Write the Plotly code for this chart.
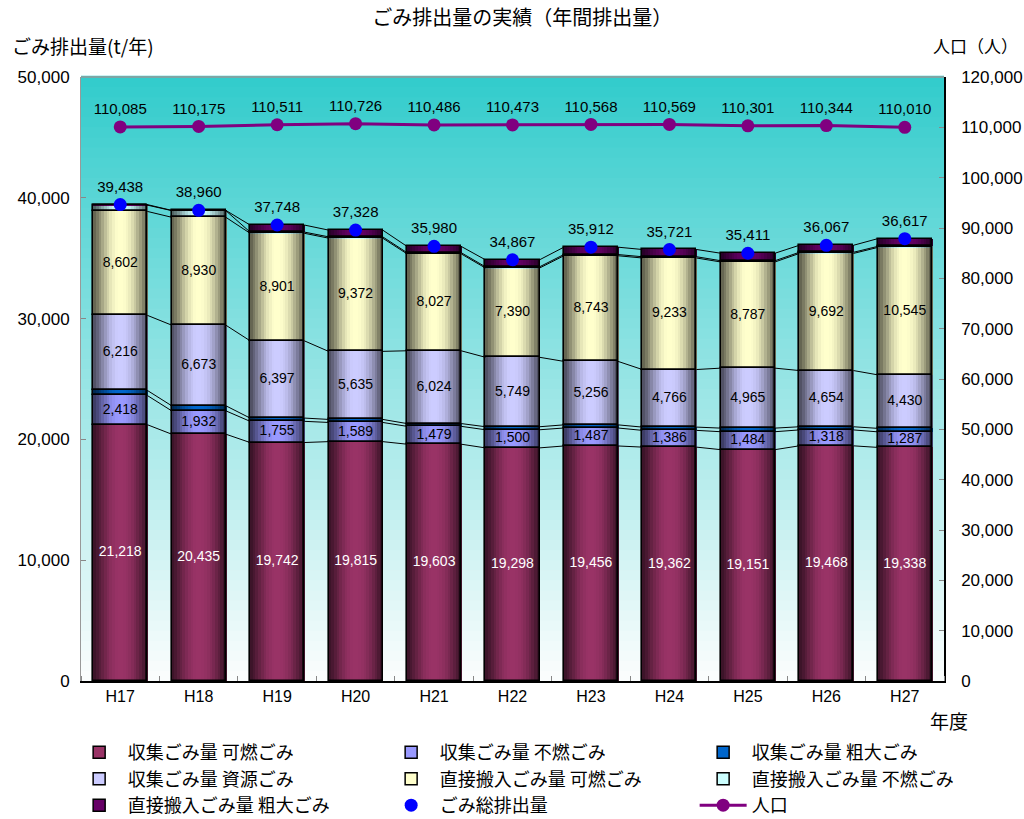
import plotly.graph_objects as go

# ---- data -------------------------------------------------------------
years = ["H17", "H18", "H19", "H20", "H21", "H22", "H23", "H24", "H25", "H26", "H27"]

collected_burnable = [21218, 20435, 19742, 19815, 19603, 19298, 19456, 19362, 19151, 19468, 19338]
collected_nonburnable = [2418, 1932, 1755, 1589, 1479, 1500, 1487, 1386, 1484, 1318, 1287]
collected_bulky = [420, 420, 270, 250, 230, 250, 260, 270, 300, 260, 290]
collected_resource = [6216, 6673, 6397, 5635, 6024, 5749, 5256, 4766, 4965, 4654, 4430]
direct_burnable = [8602, 8930, 8901, 9372, 8027, 7390, 8743, 9233, 8787, 9692, 10545]
direct_nonburnable = [520, 550, 100, 107, 97, 100, 100, 104, 104, 95, 87]
direct_bulky = [44, 20, 583, 560, 520, 580, 610, 600, 620, 580, 640]

total_waste = [39438, 38960, 37748, 37328, 35980, 34867, 35912, 35721, 35411, 36067, 36617]
population = [110085, 110175, 110511, 110726, 110486, 110473, 110568, 110569, 110301, 110344, 110010]

series = [
    ("収集ごみ量 可燃ごみ", collected_burnable, (153, 51, 102), True, "white"),
    ("収集ごみ量 不燃ごみ", collected_nonburnable, (153, 153, 255), True, "black"),
    ("収集ごみ量 粗大ごみ", collected_bulky, (0, 102, 204), False, "black"),
    ("収集ごみ量 資源ごみ", collected_resource, (204, 204, 255), True, "black"),
    ("直接搬入ごみ量 可燃ごみ", direct_burnable, (255, 255, 204), True, "black"),
    ("直接搬入ごみ量 不燃ごみ", direct_nonburnable, (204, 255, 255), False, "black"),
    ("直接搬入ごみ量 粗大ごみ", direct_bulky, (102, 0, 102), False, "black"),
]

# ---- styling helpers -------------------------------------------------
JP = "Noto Sans CJK JP"
NUM = "Liberation Sans, Noto Sans CJK JP"
BAR_W = 0.69
# brightness profile across a bar (cylinder-like shading)
SHADE = [0.40, 0.48, 0.57, 0.66, 0.75, 0.83, 0.90, 0.95, 0.99, 1.0,
         1.0, 0.99, 0.96, 0.92, 0.86, 0.79, 0.70, 0.61, 0.51, 0.40]


def rgb(c, f=1.0):
    return "rgb(%d,%d,%d)" % tuple(max(0, min(255, round(v * f))) for v in c)


xs = list(range(len(years)))
fig = go.Figure()

# cumulative bases of the stacked segments
bases, tops = [], []
running = [0] * len(years)
for _, vals, _, _, _ in series:
    bases.append(list(running))
    running = [r + v for r, v in zip(running, vals)]
    tops.append(list(running))

# connector lines between neighbouring bars at each segment boundary
cx, cy = [], []
for top in tops:
    for i in range(len(years) - 1):
        cx += [xs[i] + BAR_W / 2, xs[i + 1] - BAR_W / 2, None]
        cy += [top[i], top[i + 1], None]
fig.add_trace(go.Scatter(x=cx, y=cy, mode="lines", line=dict(color="black", width=1),
                         hoverinfo="skip", showlegend=False))

# shaded strips for each segment
n = len(SHADE)
sw = BAR_W / n
for (name, vals, col, _, _), base in zip(series, bases):
    for k, f in enumerate(SHADE):
        fig.add_trace(go.Bar(
            x=xs, y=vals, base=base, width=sw * 1.3,
            offset=-BAR_W / 2 + k * sw,
            marker=dict(color=rgb(col, f), line=dict(width=0)),
            showlegend=False, hoverinfo="skip"))

# black outline of every segment
for (name, vals, col, _, _), base in zip(series, bases):
    fig.add_trace(go.Bar(
        x=xs, y=vals, base=base, width=BAR_W,
        marker=dict(color="rgba(0,0,0,0)", line=dict(color="black", width=1.6)),
        showlegend=False, hoverinfo="skip"))

# legend entries for the segments
for name, vals, col, _, _ in series:
    fig.add_trace(go.Bar(x=[None], y=[None], name=name,
                         marker=dict(color=rgb(col), line=dict(color="black", width=1.5))))

# value labels inside the labelled segments
for (name, vals, col, labelled, tcol), base in zip(series, bases):
    if not labelled:
        continue
    fig.add_trace(go.Scatter(
        x=xs, y=[b + v / 2 for b, v in zip(base, vals)], mode="text",
        text=[f"{v:,}" for v in vals],
        textfont=dict(family=NUM, size=14, color=tcol),
        showlegend=False, hoverinfo="skip"))

# total waste markers
fig.add_trace(go.Scatter(
    x=xs, y=total_waste, name="ごみ総排出量", mode="markers+text",
    marker=dict(color="#0000FF", size=13),
    text=[f"{v:,}" for v in total_waste], textposition="top center",
    textfont=dict(family=NUM, size=15, color="black")))

# population line on the right axis
fig.add_trace(go.Scatter(
    x=xs, y=population, name="人口", mode="lines+markers+text", yaxis="y2",
    line=dict(color="#800080", width=3), marker=dict(color="#800080", size=13),
    text=[f"{v:,}" for v in population], textposition="top center",
    textfont=dict(family=NUM, size=15, color="black")))

# vertical gradient background of the plot area
top_c = (51, 204, 204)
bot_c = (250, 253, 253)
bands = 60
shapes = []
for b in range(bands):
    t = b / (bands - 1)
    c = tuple(bot_c[j] + (top_c[j] - bot_c[j]) * t for j in range(3))
    shapes.append(dict(type="rect", xref="paper", yref="paper",
                       x0=0, x1=1, y0=b / bands, y1=(b + 1) / bands + 0.002,
                       fillcolor=rgb(c), line=dict(width=0), layer="below"))
shapes.append(dict(type="line", xref="paper", yref="paper", x0=0, x1=1, y0=1, y1=1,
                   line=dict(color="#999999", width=1.5)))

fig.update_layout(
    width=1024, height=819,
    margin=dict(l=81, r=80, t=77, b=138, autoexpand=False),
    paper_bgcolor="white", plot_bgcolor="white",
    barmode="overlay", bargap=0,
    shapes=shapes,
    font=dict(family=JP, color="black"),
    title=dict(text="ごみ排出量の実績（年間排出量）", x=0.51, xanchor="center",
               y=0.978, yanchor="middle", font=dict(family=JP, size=20)),
    xaxis=dict(range=[-0.5, len(years) - 0.5], tickmode="array", tickvals=xs, ticktext=years,
               ticks="", showgrid=False, zeroline=False, showline=True,
               linecolor="black", linewidth=1.5,
               tickfont=dict(family=NUM, size=16),
               minor=dict(tick0=0.5, dtick=1, ticks="inside", ticklen=5,
                          tickcolor="#888888", showgrid=False)),
    yaxis=dict(range=[0, 50000], dtick=10000, tickformat=",", showgrid=False,
               zeroline=False, showline=True, linecolor="#999999", linewidth=1,
               ticks="inside", ticklen=5, tickcolor="#888888", ticklabelstandoff=7,
               tickfont=dict(family=NUM, size=17)),
    yaxis2=dict(range=[0, 120000], dtick=10000, tickformat=",", overlaying="y", side="right",
                showgrid=False, zeroline=False, showline=True, linecolor="black", linewidth=1.5,
                ticks="inside", ticklen=5, tickcolor="#888888", ticklabelstandoff=12,
                tickfont=dict(family=NUM, size=17)),
    legend=dict(orientation="h", x=-0.012, xanchor="left", y=-0.088, yanchor="top",
                traceorder="normal", entrywidth=250, entrywidthmode="pixels",
                itemwidth=47,
                font=dict(family=JP, size=18), bgcolor="rgba(0,0,0,0)"),
    annotations=[
        dict(text="ごみ排出量(t/年)", xref="paper", yref="paper", x=-0.082, y=1.052,
             xanchor="left", yanchor="middle", showarrow=False, font=dict(family=JP, size=19)),
        dict(text="人口（人）", xref="paper", yref="paper", x=1.088, y=1.052,
             xanchor="right", yanchor="middle", showarrow=False, font=dict(family=JP, size=17)),
        dict(text="年度", xref="paper", yref="paper", x=1.006, y=-0.066,
             xanchor="center", yanchor="middle", showarrow=False, font=dict(family=JP, size=19)),
    ],
)

fig.write_html("out.html")
